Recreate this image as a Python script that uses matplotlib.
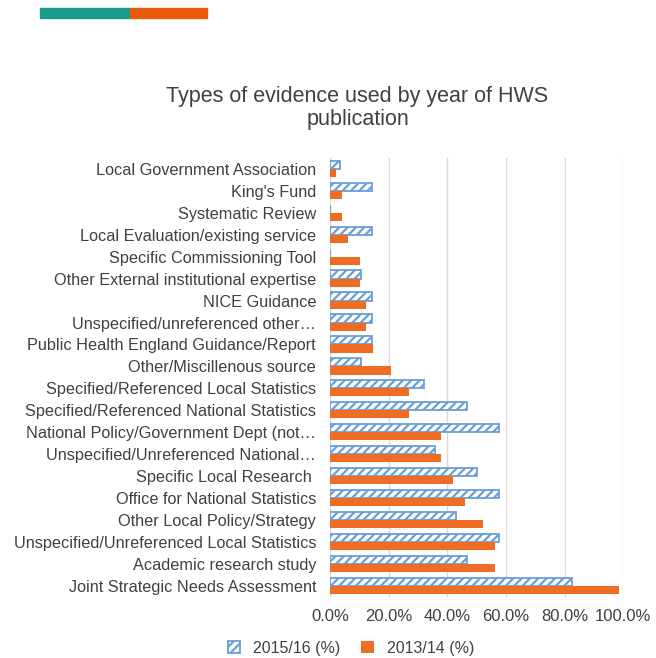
import matplotlib.pyplot as plt
import numpy as np
from matplotlib.patches import Rectangle

plt.rcParams['font.family'] = ['Liberation Sans', 'DejaVu Sans']
plt.rcParams['hatch.linewidth'] = 1.6

categories = [
    "Local Government Association",
    "King's Fund",
    "Systematic Review",
    "Local Evaluation/existing service",
    "Specific Commissioning Tool",
    "Other External institutional expertise",
    "NICE Guidance",
    "Unspecified/unreferenced other\u2026",
    "Public Health England Guidance/Report",
    "Other/Miscillenous source",
    "Specified/Referenced Local Statistics",
    "Specified/Referenced National Statistics",
    "National Policy/Government Dept (not\u2026",
    "Unspecified/Unreferenced National\u2026",
    "Specific Local Research ",
    "Office for National Statistics",
    "Other Local Policy/Strategy",
    "Unspecified/Unreferenced Local Statistics",
    "Academic research study",
    "Joint Strategic Needs Assessment",
]
vals_1516 = [3.4, 14.4, 0, 14.4, 0, 10.7, 14.4, 14.4, 14.4, 10.7,
             32.2, 46.6, 57.5, 35.9, 50.2, 57.5, 43.1, 57.5, 46.6, 82.7]
vals_1314 = [2.1, 4.1, 4.1, 6.3, 10.4, 10.4, 12.4, 12.4, 14.6, 20.7,
             26.9, 26.9, 37.7, 37.7, 41.9, 46.0, 52.2, 56.4, 56.4, 98.6]

blue = '#6a9ed8'
orange = '#ee6c24'
text_col = '#404040'

fig = plt.figure(figsize=(6.56, 6.58), dpi=100)
ax = fig.add_axes([0.503, 0.093, 0.447, 0.667])

y = np.arange(len(categories))
h = 0.37
ax.barh(y - h / 2, vals_1516, height=h, color='white', edgecolor=blue,
        hatch='////', linewidth=1.3, label='2015/16 (%)', zorder=3)
ax.barh(y + h / 2, vals_1314, height=h, color=orange, label='2013/14 (%)', zorder=3)

ax.set_ylim(len(categories) - 0.5, -0.5)
ax.set_xlim(0, 100)
ax.set_xticks(np.arange(0, 101, 20))
ax.set_xticklabels([f"{v:.1f}%" for v in np.arange(0, 101, 20)])
ax.set_yticks(y)
ax.set_yticklabels(categories)
ax.tick_params(axis='y', length=0, labelsize=11.7, colors=text_col, pad=10)
ax.tick_params(axis='x', length=0, labelsize=12, colors=text_col, pad=9)
ax.grid(axis='x', color='#d9d9d9', linewidth=1, zorder=0)
for s in ax.spines.values():
    s.set_visible(False)

fig.text(0.545, 0.836, "Types of evidence used by year of HWS\npublication",
         ha='center', va='center', fontsize=15.5, color=text_col, linespacing=1.1)

ax.legend(loc='center', bbox_to_anchor=(0.535, 0.015), bbox_transform=fig.transFigure,
          ncol=2, frameon=False, fontsize=11.5, handlelength=0.8, handleheight=0.8,
          columnspacing=1.3, labelcolor=text_col)

# decorative strip at the top
fig.patches.append(Rectangle((40 / 656, 1 - 18 / 658), 90 / 656, 10 / 658,
                             transform=fig.transFigure, color='#1a9a8a'))
fig.patches.append(Rectangle((130 / 656, 1 - 18 / 658), 77 / 656, 10 / 658,
                             transform=fig.transFigure, color='#e95a0c'))

fig.savefig('out.png', dpi=100, facecolor='white')
